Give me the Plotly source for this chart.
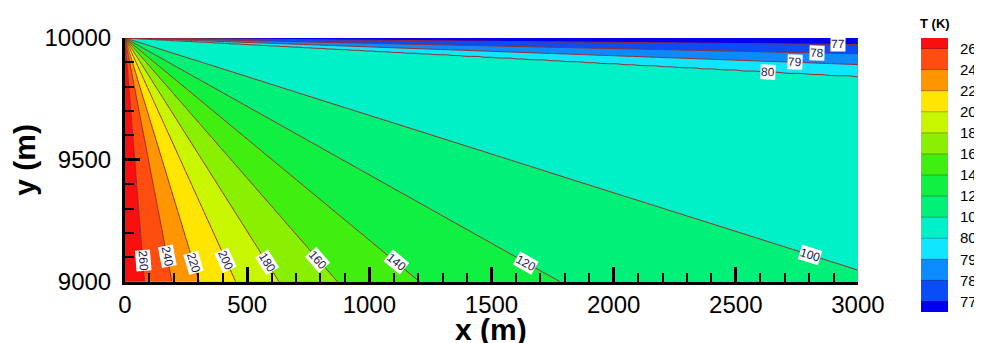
import numpy as np
import plotly.graph_objects as go

# ---------------- data ----------------
levels = [77, 78, 79, 80, 100, 120, 140, 160, 180, 200, 220, 240, 260]
# point where each contour line leaves the domain (lines radiate from (0, 10000))
edge_x = [3000, 3000, 3000, 3000, 3000, 1780, 1205, 869, 630, 453, 303, 192, 80]
edge_y = [9973, 9935, 9891, 9843, 9047, 9000, 9000, 9000, 9000, 9000, 9000, 9000, 9000]
# x position of each contour label along its line
label_x = [2920, 2831, 2742, 2632, 2804, 1640, 1110, 790, 580, 412, 280, 172, 73]
# fill colours: band below 77, 77-78, ..., 240-260, above 260
band_colors = ['#0000f0', '#0a4cf5', '#0a8cff', '#10e6ff', '#00f0c8', '#00f078',
               '#10f040', '#40ee10', '#88f000', '#c8f500', '#ffe600', '#ff9500',
               '#ff4d0f', '#f81010']
x_ticks = [0, 500, 1000, 1500, 2000, 2500, 3000]
y_ticks = [9000, 9500, 10000]
x_range = [0, 3000]
y_range = [9000, 10000]

# ---------------- layout geometry (page body has an 8px margin) ----------------
W_FIG, H_FIG = 974, 335
ML, MR, MT, MB = 117, 20, 30, 31
XDOM = [0.0, 0.8757]
YDOM = [0.1106, 1.0]
LXDOM = [0.951, 0.9833]

x0, x1 = x_range
y0, y1 = y_range
nl = len(levels)

# ---------------- field (level index as function of angle from corner) ----------------
theta_lv = np.degrees(np.arctan2(y1 - np.array(edge_y, float), np.array(edge_x, float) - x0))
u = np.linspace(0, 1, 161)
xg = x0 + (x1 - x0) * u ** 2
yg = y1 - (y1 - y0) * u ** 2
X, Y = np.meshgrid(xg, yg)
TH = np.degrees(np.arctan2(y1 - Y, X - x0))
F = np.interp(TH, np.concatenate([[0.0], theta_lv, [90.0]]),
              np.concatenate([[-0.5], np.arange(nl, dtype=float), [nl - 0.5]]))

# stepped colorscale (14 bands)
nb = len(band_colors)
cscale = []
for k, c in enumerate(band_colors):
    cscale.append([max(0.0, (k - 0.5) / (nb - 1)), c])
    cscale.append([min(1.0, (k + 0.5) / (nb - 1)), c])

fig = go.Figure()
fig.add_trace(go.Contour(
    x=xg, y=yg, z=F,
    autocontour=False,
    contours=dict(start=0, end=nl - 1, size=1, coloring='fill', showlines=True),
    line=dict(color='#9a2c2c', width=1),
    colorscale=cscale, showscale=False, hoverinfo='skip',
    xaxis='x', yaxis='y'))

# legend strip
yedges = [-0.5] + list(range(nl)) + [nl - 0.5]
zleg = [[k - 0.5] for k in range(nb)]
fig.add_trace(go.Heatmap(
    x=[0, 1], y=yedges, z=zleg, zmin=-0.5, zmax=nl - 0.5,
    colorscale=cscale, showscale=False, hoverinfo='skip',
    xaxis='x2', yaxis='y2'))

shapes = [dict(type='line', xref='x2', yref='y2', x0=0, x1=1, y0=k, y1=k,
               line=dict(color='rgba(40,40,40,0.35)', width=1)) for k in range(nl)]

# contour labels
W = W_FIG - ML - MR
H = H_FIG - MT - MB
ppx = W * (XDOM[1] - XDOM[0]) / (x1 - x0)
ppy = H * (YDOM[1] - YDOM[0]) / (y1 - y0)
annotations = []
for lv, ex, ey, lx in zip(levels, edge_x, edge_y, label_x):
    slope = (y1 - ey) / (ex - x0)
    ly = y1 - slope * (lx - x0)
    ang = float(np.degrees(np.arctan(slope * ppy / ppx)))
    annotations.append(dict(x=lx, y=ly, xref='x', yref='y', text=str(lv), showarrow=False,
                            textangle=ang, bgcolor='white', borderpad=0,
                            font=dict(family='Arial, Liberation Sans', size=12, color='#1c1c50')))
annotations.append(dict(x=(927 - ML) / W, y=(H_FIG - MB - 15) / H, xref='paper', yref='paper',
                        xanchor='center', yanchor='middle',
                        text='<b>T (K)</b>', showarrow=False,
                        font=dict(family='Arial, Liberation Sans', size=13, color='black')))

axis_font = dict(family='Arial, Liberation Sans', size=24, color='black')
title_font = dict(family='Arial, Liberation Sans', size=30, color='black')

# x-axis title (placed just below the tick labels)
annotations.append(dict(x=(XDOM[0] + XDOM[1]) / 2, y=(H_FIG - MB - 321) / H,
                        xref='paper', yref='paper', xanchor='center', yanchor='middle',
                        text='<b>x (m)</b>', showarrow=False, font=title_font))

common = dict(ticks='inside', ticklen=15, tickwidth=3, tickcolor='black', showline=True,
              linewidth=3, linecolor='black', showgrid=False, zeroline=False, mirror=False,
              tickfont=axis_font, automargin=False)

fig.update_layout(
    width=W_FIG, height=H_FIG, margin=dict(l=ML, r=MR, t=MT, b=MB),
    paper_bgcolor='white', plot_bgcolor='white', showlegend=False,
    xaxis=dict(domain=XDOM, range=x_range, tickvals=x_ticks,
               ticktext=[str(v) for v in x_ticks], anchor='y',
               minor=dict(dtick=100, ticks='inside', ticklen=9, tickwidth=2, tickcolor='black'),
               **common),
    yaxis=dict(domain=YDOM, range=y_range, tickvals=y_ticks,
               ticktext=[str(v) for v in y_ticks], anchor='x', ticklabelstandoff=6,
               minor=dict(dtick=100, ticks='inside', ticklen=9, tickwidth=2, tickcolor='black'),
               title=dict(text='<b>y (m)</b>', font=title_font, standoff=2), **common),
    xaxis2=dict(domain=LXDOM, range=[0, 1], anchor='y2', visible=False, fixedrange=True),
    yaxis2=dict(domain=[0, 1], range=[-0.5, nl - 0.5], anchor='x2', side='right',
                tickvals=list(range(nl)), ticktext=[str(v) for v in levels],
                ticks='', showline=False, showgrid=False, zeroline=False,
                tickfont=dict(family='Arial, Liberation Sans', size=15, color='black'),
                ticklabelstandoff=11, automargin=False),
    shapes=shapes, annotations=annotations,
)

fig.write_html('out.html')
